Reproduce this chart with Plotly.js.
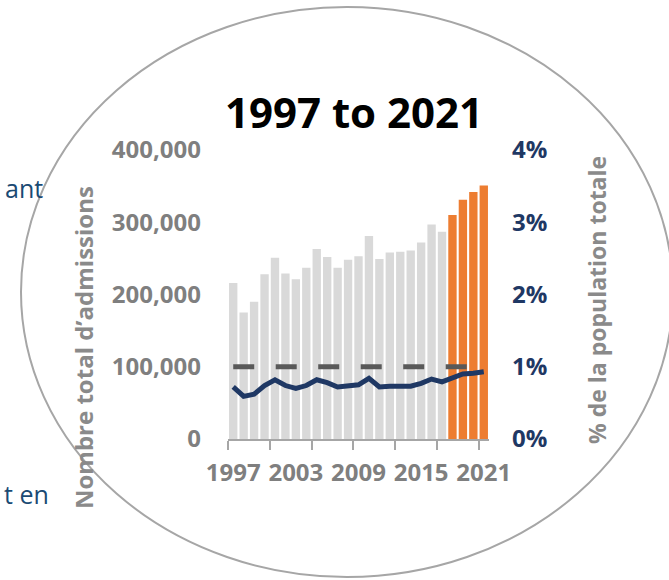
<!DOCTYPE html>
<html><head><meta charset="utf-8">
<script src="https://cdn.plot.ly/plotly-3.0.1.min.js"></script>
<style>html,body{margin:0;padding:0;background:#fff}#chart{width:669px;height:580px}</style>
</head><body><div id="chart"></div>
<script>
const years = [1997,1998,1999,2000,2001,2002,2003,2004,2005,2006,2007,2008,2009,2010,2011,2012,2013,2014,2015,2016,2017,2018,2019,2020,2021];
const admissions = [216000,175000,190000,228000,251000,229000,221000,237000,263000,252000,237000,248000,253000,281000,249000,258000,259000,261000,272000,297000,287000,310000,331000,342000,351000];
const pctPopulation = [0.72,0.59,0.62,0.74,0.82,0.74,0.70,0.74,0.82,0.78,0.72,0.74,0.75,0.84,0.72,0.73,0.73,0.73,0.77,0.83,0.79,0.85,0.90,0.91,0.93];
const benchmarkPct = [1,1,1,1,1,1,1,1,1,1,1,1,1,1,1,1,1,1,1,1,1,1,1,1,1];
const firstPlannedYear = 2018;
const xTickYears = [1997,2003,2009,2015,2021];
const xTickLabels = ['1997','2003','2009','2015','2021'];
const xTickMarks = [1996.5,2000.5,2004.5,2008.5,2012.5,2016.5,2020.5];
const leftTicks = [0,100000,200000,300000,400000];
const rightTicks = [0,1,2,3,4];
const rightTickLabels = ['0%','1%','2%','3%','4%'];

const FONT = '"Open Sans", "Liberation Sans", sans-serif';
const GREY = '#7f7f7f';
const NAVY = '#1f3864';

const barColors = years.map(y => y >= firstPlannedYear ? '#ed7d31' : '#d9d9d9');

// plot area geometry (px) used for shapes/annotations in paper coordinates
const L = 228, R = 180, T = 150, B = 141, W = 669 - L - R, H = 580 - T - B;
const px = x => (x - L) / W;
const py = y => (580 - B - y) / H;

const traces = [
  {type:'bar', x:years, y:admissions, marker:{color:barColors}, yaxis:'y', hoverinfo:'skip'},
  {type:'scatter', mode:'lines', x:years, y:benchmarkPct, yaxis:'y2',
   line:{color:'#595959', width:5, dash:'21px,21.5px'}, hoverinfo:'skip'},
  {type:'scatter', mode:'lines', x:years, y:pctPopulation, yaxis:'y2',
   line:{color:NAVY, width:5}, hoverinfo:'skip'}
];

const layout = {
  width:669, height:580, showlegend:false,
  paper_bgcolor:'#fff', plot_bgcolor:'rgba(0,0,0,0)',
  margin:{l:L, r:R, t:T, b:B, pad:0},
  bargap:0.2,
  font:{family:FONT},
  title:{text:'1997 to 2021', font:{family:FONT, size:42, color:'#000', weight:700},
         x:354/669, xanchor:'center', xref:'container', y:1-113/580, yanchor:'middle', yref:'container'},
  xaxis:{range:[1996.5,2021.5], tickmode:'array', tickvals:xTickYears, ticktext:xTickLabels,
         ticks:'outside', ticklen:0, tickcolor:'rgba(0,0,0,0)',
         tickfont:{family:FONT, size:24, color:GREY, weight:700},
         ticklabelstandoff:11,
         minor:{tickmode:'array', tickvals:xTickMarks, ticks:'outside', ticklen:9, tickwidth:2, tickcolor:'#a6a6a6', showgrid:false},
         showline:true, linecolor:'#a6a6a6', linewidth:2, showgrid:false, zeroline:false,
         fixedrange:true, automargin:false},
  yaxis:{range:[0,400000], tickmode:'array', tickvals:leftTicks, tickformat:',', ticks:'',
         tickfont:{family:FONT, size:24, color:GREY, weight:700}, ticklabelstandoff:26,
         showline:false, showgrid:false, zeroline:false, fixedrange:true, automargin:false},
  yaxis2:{range:[0,4], overlaying:'y', side:'right', tickmode:'array', tickvals:rightTicks,
          ticktext:rightTickLabels, ticks:'', tickfont:{family:FONT, size:24, color:NAVY, weight:700},
          ticklabelstandoff:22, showline:false, showgrid:false, zeroline:false,
          fixedrange:true, automargin:false},
  shapes:[
    {type:'circle', xref:'paper', yref:'paper', layer:'below',
     x0:px(21), x1:px(673), y0:py(577), y1:py(7),
     line:{color:'#a6a6a6', width:2}, fillcolor:'rgba(0,0,0,0)'}
  ],
  annotations:[
    {text:'Nombre total d’admissions', xref:'paper', yref:'paper', x:px(83), y:py(348),
     xanchor:'center', yanchor:'middle', textangle:-90, showarrow:false,
     font:{family:FONT, size:24, color:'#8a8a8a', weight:700}},
    {text:'% de la population totale', xref:'paper', yref:'paper', x:px(597), y:py(300),
     xanchor:'center', yanchor:'middle', textangle:-90, showarrow:false,
     font:{family:FONT, size:23, color:'#8a8a8a', weight:700}},
    {text:'ant', xref:'paper', yref:'paper', x:px(45), y:py(188),
     xanchor:'right', yanchor:'middle', showarrow:false,
     font:{family:FONT, size:25, color:'#1a4a73'}},
    {text:'t en', xref:'paper', yref:'paper', x:px(51), y:py(494),
     xanchor:'right', yanchor:'middle', showarrow:false,
     font:{family:FONT, size:25, color:'#1a4a73'}}
  ]
};

Plotly.newPlot('chart', traces, layout, {displayModeBar:false, staticPlot:true});
</script>
</body></html>
